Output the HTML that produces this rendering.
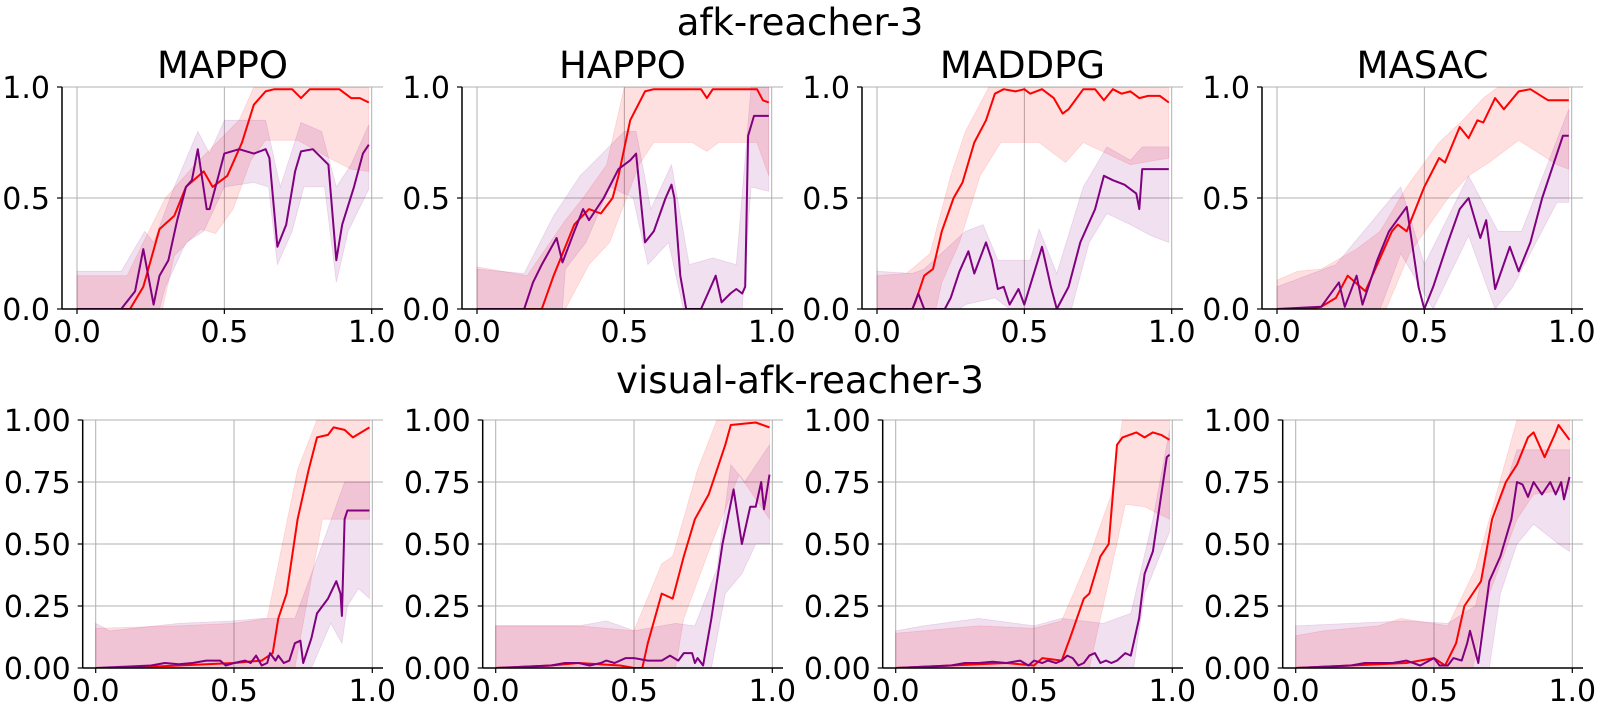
<!DOCTYPE html>
<html><head><meta charset="utf-8"><style>
html,body{margin:0;padding:0;background:#fff;}
svg{display:block;font-family:"DejaVu Sans","Liberation Sans",sans-serif;}
</style></head><body>
<svg id="fig" width="1600" height="711" viewBox="0 0 1600 711" xmlns="http://www.w3.org/2000/svg">
<text x="800" y="35" font-size="37" text-anchor="middle">afk-reacher-3</text>
<text x="800" y="393" font-size="37" text-anchor="middle">visual-afk-reacher-3</text>
</svg>
<script>
const titles = ["MAPPO","HAPPO","MADDPG","MASAC"];
const topTicks = [0,0.5,1];
const topTickLabels = ["0.0","0.5","1.0"];
const botTicks = [0,0.25,0.5,0.75,1];
const botTickLabels = ["0.00","0.25","0.50","0.75","1.00"];
const xTicks = [0,0.5,1];
const xTickLabels = ["0.0","0.5","1.0"];

// ---- Top row (afk-reacher-3) ----
const t1RedMean = [[0,0],[0.18,0],[0.225,0.1],[0.28,0.36],[0.33,0.42],[0.37,0.55],[0.43,0.62],[0.46,0.55],[0.51,0.6],[0.56,0.75],[0.6,0.92],[0.64,0.98],[0.67,0.99],[0.73,0.99],[0.76,0.95],[0.79,0.99],[0.89,0.99],[0.93,0.95],[0.96,0.95],[0.99,0.93]];
const t1RedLo = [[0,0],[0.29,0],[0.33,0.24],[0.42,0.36],[0.47,0.34],[0.53,0.45],[0.59,0.67],[0.64,0.76],[0.75,0.76],[0.87,0.67],[0.93,0.63],[0.99,0.62]];
const t1RedHi = [[0,0.15],[0.17,0.15],[0.225,0.3],[0.3,0.5],[0.4,0.65],[0.55,0.85],[0.6,1],[0.99,1]];
const t1PurMean = [[0,0],[0.15,0],[0.197,0.08],[0.225,0.27],[0.26,0.02],[0.28,0.15],[0.31,0.22],[0.34,0.4],[0.37,0.55],[0.39,0.58],[0.41,0.72],[0.44,0.45],[0.45,0.45],[0.48,0.6],[0.5,0.7],[0.55,0.72],[0.6,0.7],[0.64,0.72],[0.653,0.68],[0.68,0.28],[0.71,0.38],[0.74,0.62],[0.76,0.71],[0.8,0.72],[0.853,0.65],[0.88,0.22],[0.9,0.38],[0.94,0.55],[0.97,0.7],[0.99,0.74]];
const t1PurLo = [[0,0],[0.28,0],[0.3,0.1],[0.37,0.3],[0.43,0.35],[0.5,0.55],[0.6,0.57],[0.65,0.55],[0.68,0.2],[0.73,0.35],[0.77,0.55],[0.84,0.55],[0.88,0.12],[0.92,0.35],[0.99,0.54]];
const t1PurHi = [[0,0.17],[0.15,0.17],[0.23,0.35],[0.26,0.3],[0.33,0.55],[0.41,0.8],[0.45,0.7],[0.5,0.85],[0.64,0.85],[0.69,0.55],[0.76,0.84],[0.83,0.8],[0.88,0.55],[0.93,0.65],[0.99,0.83]];

const t2RedMean = [[0,0],[0.22,0],[0.26,0.15],[0.33,0.38],[0.38,0.45],[0.42,0.43],[0.46,0.5],[0.48,0.6],[0.52,0.85],[0.57,0.98],[0.6,0.99],[0.76,0.99],[0.78,0.95],[0.8,0.99],[0.95,0.99],[0.97,0.94],[0.99,0.93]];
const t2RedLo = [[0,0],[0.3,0],[0.38,0.2],[0.45,0.3],[0.55,0.65],[0.6,0.75],[0.73,0.75],[0.78,0.71],[0.82,0.75],[0.95,0.75],[0.99,0.6]];
const t2RedHi = [[0,0.19],[0.17,0.15],[0.3,0.4],[0.36,0.5],[0.44,0.65],[0.5,1],[0.99,1]];
const t2PurMean = [[0,0],[0.16,0],[0.19,0.12],[0.22,0.2],[0.27,0.32],[0.29,0.21],[0.33,0.35],[0.36,0.45],[0.38,0.4],[0.43,0.5],[0.48,0.63],[0.52,0.67],[0.54,0.7],[0.57,0.3],[0.6,0.35],[0.64,0.5],[0.66,0.56],[0.67,0.5],[0.69,0.15],[0.71,0],[0.76,0],[0.8,0.12],[0.81,0.15],[0.83,0.03],[0.86,0.07],[0.88,0.09],[0.9,0.07],[0.91,0.1],[0.92,0.78],[0.94,0.87],[0.99,0.87]];
const t2PurLo = [[0,0],[0.29,0],[0.3,0.18],[0.37,0.3],[0.45,0.55],[0.53,0.5],[0.58,0.2],[0.65,0.3],[0.7,0],[0.9,0],[0.93,0.55],[0.99,0.53]];
const t2PurHi = [[0,0.18],[0.16,0.16],[0.26,0.42],[0.35,0.6],[0.5,0.8],[0.54,0.8],[0.59,0.45],[0.66,0.65],[0.72,0.2],[0.8,0.23],[0.88,0.2],[0.93,1],[0.99,1]];

const t3RedMean = [[0,0],[0.12,0],[0.13,0.03],[0.16,0.15],[0.19,0.18],[0.22,0.35],[0.26,0.5],[0.29,0.57],[0.33,0.75],[0.37,0.85],[0.4,0.97],[0.43,0.99],[0.47,0.98],[0.5,0.99],[0.52,0.97],[0.56,0.99],[0.6,0.95],[0.63,0.88],[0.65,0.9],[0.7,0.99],[0.74,0.99],[0.77,0.94],[0.8,0.99],[0.83,0.97],[0.86,0.98],[0.89,0.95],[0.92,0.96],[0.96,0.96],[0.99,0.93]];
const t3RedLo = [[0,0],[0.2,0],[0.22,0.12],[0.28,0.3],[0.35,0.6],[0.42,0.75],[0.55,0.75],[0.64,0.66],[0.7,0.75],[0.78,0.7],[0.86,0.65],[0.99,0.68]];
const t3RedHi = [[0,0.15],[0.1,0.16],[0.18,0.25],[0.25,0.6],[0.3,0.8],[0.38,1],[0.99,1]];
const t3PurMean = [[0,0],[0.12,0],[0.14,0.07],[0.16,0],[0.23,0],[0.25,0.05],[0.28,0.17],[0.31,0.26],[0.33,0.16],[0.37,0.3],[0.39,0.22],[0.41,0.09],[0.43,0.1],[0.45,0.02],[0.48,0.09],[0.5,0.02],[0.53,0.15],[0.56,0.28],[0.59,0.1],[0.61,0],[0.65,0.1],[0.69,0.3],[0.74,0.45],[0.77,0.6],[0.8,0.58],[0.84,0.56],[0.88,0.52],[0.89,0.45],[0.9,0.63],[0.99,0.63]];
const t3PurLo = [[0,0],[0.28,0],[0.3,0.02],[0.4,0.05],[0.45,0],[0.66,0],[0.72,0.3],[0.78,0.43],[0.86,0.38],[0.93,0.33],[0.99,0.3]];
const t3PurHi = [[0,0.17],[0.12,0.16],[0.16,0.18],[0.3,0.35],[0.36,0.38],[0.41,0.22],[0.52,0.22],[0.55,0.36],[0.61,0.16],[0.7,0.55],[0.78,0.73],[0.86,0.67],[0.9,0.73],[0.99,0.73]];

const t4RedMean = [[0,0],[0.1,0],[0.15,0.01],[0.2,0.05],[0.24,0.15],[0.3,0.08],[0.34,0.2],[0.39,0.35],[0.41,0.38],[0.44,0.35],[0.5,0.55],[0.55,0.68],[0.57,0.66],[0.62,0.82],[0.65,0.77],[0.68,0.85],[0.7,0.84],[0.74,0.95],[0.77,0.9],[0.82,0.98],[0.86,0.99],[0.92,0.94],[0.95,0.94],[0.99,0.94]];
const t4RedLo = [[0,0],[0.37,0],[0.45,0.25],[0.58,0.5],[0.65,0.6],[0.72,0.66],[0.82,0.76],[0.95,0.65],[0.99,0.63]];
const t4RedHi = [[0,0.13],[0.07,0.17],[0.15,0.18],[0.27,0.27],[0.35,0.35],[0.44,0.55],[0.55,0.75],[0.63,0.85],[0.7,0.95],[0.75,1],[0.99,1]];
const t4PurMean = [[0,0],[0.15,0.01],[0.21,0.12],[0.23,0.01],[0.27,0.15],[0.29,0.02],[0.34,0.22],[0.38,0.35],[0.44,0.46],[0.48,0.1],[0.5,0],[0.53,0.1],[0.58,0.3],[0.62,0.45],[0.65,0.5],[0.69,0.32],[0.71,0.4],[0.74,0.09],[0.79,0.28],[0.82,0.17],[0.86,0.3],[0.9,0.5],[0.95,0.7],[0.97,0.78],[0.99,0.78]];
const t4PurLo = [[0,0],[0.35,0],[0.42,0.25],[0.53,0],[0.65,0.33],[0.74,0],[0.8,0.1],[0.95,0.48],[0.99,0.48]];
const t4PurHi = [[0,0.1],[0.2,0.2],[0.42,0.55],[0.5,0.2],[0.65,0.6],[0.75,0.35],[0.83,0.35],[0.99,0.9]];

// ---- Bottom row (visual-afk-reacher-3) ----
const b1RedMean = [[0,0],[0.1,0],[0.3,0.01],[0.5,0.02],[0.6,0.03],[0.64,0.06],[0.66,0.2],[0.69,0.3],[0.73,0.6],[0.77,0.8],[0.8,0.93],[0.84,0.94],[0.86,0.97],[0.9,0.96],[0.93,0.93],[0.99,0.97]];
const b1RedLo = [[0,0],[0.72,0],[0.82,0.6],[0.99,0.6]];
const b1RedHi = [[0,0.16],[0.3,0.17],[0.5,0.18],[0.62,0.2],[0.73,0.8],[0.8,1],[0.99,1]];
const b1PurMean = [[0,0],[0.1,0.005],[0.2,0.01],[0.25,0.02],[0.3,0.015],[0.35,0.02],[0.4,0.03],[0.45,0.03],[0.47,0.01],[0.5,0.02],[0.54,0.03],[0.56,0.02],[0.58,0.05],[0.6,0.01],[0.62,0.02],[0.63,0.06],[0.65,0.03],[0.66,0.05],[0.68,0.02],[0.7,0.03],[0.72,0.1],[0.74,0.11],[0.75,0.02],[0.78,0.12],[0.8,0.22],[0.84,0.28],[0.87,0.35],[0.885,0.3],[0.89,0.21],[0.9,0.6],[0.91,0.635],[0.99,0.635]];
const b1PurLo = [[0,0],[0.78,0],[0.85,0.18],[0.89,0.1],[0.91,0.25],[0.95,0.32],[0.99,0.28]];
const b1PurHi = [[0,0.18],[0.05,0.15],[0.3,0.18],[0.5,0.19],[0.6,0.2],[0.72,0.2],[0.82,0.5],[0.9,0.75],[0.99,0.75]];

const b2RedMean = [[0,0],[0.2,0.01],[0.3,0.02],[0.45,0.01],[0.5,0],[0.53,0],[0.55,0.1],[0.6,0.3],[0.64,0.28],[0.68,0.45],[0.72,0.6],[0.77,0.7],[0.83,0.9],[0.85,0.98],[0.94,0.99],[0.99,0.97]];
const b2RedLo = [[0,0],[0.65,0],[0.68,0.2],[0.78,0.5],[0.88,0.78],[0.99,0.6]];
const b2RedHi = [[0,0.17],[0.3,0.17],[0.5,0.15],[0.6,0.42],[0.64,0.45],[0.73,0.8],[0.8,1],[0.99,1]];
const b2PurMean = [[0,0],[0.1,0.005],[0.2,0.01],[0.25,0.02],[0.3,0.02],[0.34,0.01],[0.38,0.02],[0.4,0.03],[0.43,0.02],[0.47,0.04],[0.5,0.04],[0.55,0.03],[0.6,0.03],[0.63,0.05],[0.66,0.03],[0.68,0.06],[0.71,0.06],[0.72,0.02],[0.73,0.04],[0.75,0.01],[0.78,0.2],[0.82,0.5],[0.86,0.72],[0.89,0.5],[0.92,0.65],[0.94,0.65],[0.96,0.75],[0.97,0.64],[0.99,0.78]];
const b2PurLo = [[0,0],[0.78,0],[0.83,0.3],[0.89,0.38],[0.94,0.5],[0.99,0.5]];
const b2PurHi = [[0,0.17],[0.3,0.17],[0.4,0.19],[0.5,0.15],[0.65,0.18],[0.72,0.17],[0.8,0.4],[0.85,0.82],[0.9,0.75],[0.99,0.9]];

const b3RedMean = [[0,0],[0.2,0.01],[0.4,0.02],[0.5,0.01],[0.53,0.04],[0.6,0.03],[0.63,0.12],[0.68,0.28],[0.7,0.3],[0.74,0.45],[0.77,0.5],[0.8,0.9],[0.82,0.93],[0.87,0.95],[0.9,0.93],[0.93,0.95],[0.96,0.94],[0.99,0.92]];
const b3RedLo = [[0,0],[0.7,0],[0.78,0.4],[0.83,0.66],[0.9,0.65],[0.99,0.6]];
const b3RedHi = [[0,0.14],[0.1,0.15],[0.3,0.17],[0.5,0.16],[0.6,0.19],[0.7,0.45],[0.78,0.7],[0.82,1],[0.99,1]];
const b3PurMean = [[0,0],[0.1,0.005],[0.2,0.01],[0.25,0.02],[0.3,0.02],[0.35,0.025],[0.4,0.02],[0.45,0.03],[0.48,0.01],[0.5,0.03],[0.53,0.02],[0.55,0.03],[0.58,0.02],[0.6,0.03],[0.62,0.05],[0.64,0.04],[0.66,0.01],[0.68,0.02],[0.7,0.05],[0.72,0.06],[0.74,0.02],[0.76,0.03],[0.78,0.02],[0.8,0.03],[0.83,0.06],[0.85,0.05],[0.88,0.2],[0.9,0.38],[0.93,0.47],[0.98,0.85],[0.99,0.86]];
const b3PurLo = [[0,0],[0.86,0],[0.9,0.3],[0.99,0.55]];
const b3PurHi = [[0,0.15],[0.1,0.17],[0.3,0.2],[0.5,0.17],[0.6,0.2],[0.75,0.18],[0.85,0.22],[0.93,0.6],[0.99,0.96]];

const b4RedMean = [[0,0],[0.2,0.01],[0.4,0.02],[0.5,0.04],[0.54,0.01],[0.58,0.1],[0.61,0.25],[0.67,0.35],[0.71,0.6],[0.76,0.75],[0.8,0.82],[0.84,0.93],[0.86,0.95],[0.9,0.85],[0.94,0.95],[0.95,0.98],[0.99,0.92]];
const b4RedLo = [[0,0],[0.64,0],[0.7,0.3],[0.8,0.6],[0.86,0.7],[0.99,0.72]];
const b4RedHi = [[0,0.13],[0.1,0.15],[0.3,0.17],[0.38,0.2],[0.55,0.17],[0.65,0.4],[0.75,0.8],[0.8,1],[0.99,1]];
const b4PurMean = [[0,0],[0.1,0.005],[0.2,0.01],[0.25,0.02],[0.3,0.02],[0.35,0.02],[0.4,0.03],[0.45,0.01],[0.5,0.04],[0.52,0.01],[0.55,0.01],[0.57,0.04],[0.6,0.03],[0.62,0.1],[0.63,0.15],[0.66,0.02],[0.7,0.35],[0.74,0.45],[0.78,0.6],[0.8,0.75],[0.82,0.74],[0.84,0.69],[0.86,0.75],[0.89,0.7],[0.92,0.75],[0.94,0.7],[0.96,0.75],[0.97,0.68],[0.99,0.77]];
const b4PurLo = [[0,0],[0.7,0],[0.74,0.3],[0.8,0.5],[0.86,0.58],[0.95,0.5],[0.99,0.47]];
const b4PurHi = [[0,0.17],[0.2,0.18],[0.4,0.19],[0.55,0.18],[0.65,0.25],[0.72,0.6],[0.8,0.88],[0.99,0.88]];

const panels = [
  {row:0,col:0,rm:t1RedMean,rl:t1RedLo,rh:t1RedHi,pm:t1PurMean,pl:t1PurLo,ph:t1PurHi},
  {row:0,col:1,rm:t2RedMean,rl:t2RedLo,rh:t2RedHi,pm:t2PurMean,pl:t2PurLo,ph:t2PurHi},
  {row:0,col:2,rm:t3RedMean,rl:t3RedLo,rh:t3RedHi,pm:t3PurMean,pl:t3PurLo,ph:t3PurHi},
  {row:0,col:3,rm:t4RedMean,rl:t4RedLo,rh:t4RedHi,pm:t4PurMean,pl:t4PurLo,ph:t4PurHi},
  {row:1,col:0,rm:b1RedMean,rl:b1RedLo,rh:b1RedHi,pm:b1PurMean,pl:b1PurLo,ph:b1PurHi},
  {row:1,col:1,rm:b2RedMean,rl:b2RedLo,rh:b2RedHi,pm:b2PurMean,pl:b2PurLo,ph:b2PurHi},
  {row:1,col:2,rm:b3RedMean,rl:b3RedLo,rh:b3RedHi,pm:b3PurMean,pl:b3PurLo,ph:b3PurHi},
  {row:1,col:3,rm:b4RedMean,rl:b4RedLo,rh:b4RedHi,pm:b4PurMean,pl:b4PurLo,ph:b4PurHi}
];

const NS = "http://www.w3.org/2000/svg";
const svg = document.getElementById("fig");
function mk(tag, attrs, parent){
  const e = document.createElementNS(NS, tag);
  for (const k in attrs) e.setAttribute(k, attrs[k]);
  (parent||svg).appendChild(e);
  return e;
}
function interp(pts, x){
  if (x <= pts[0][0]) return pts[0][1];
  for (let i=1;i<pts.length;i++){
    if (x <= pts[i][0]){
      const a=pts[i-1], b=pts[i];
      return a[1] + (b[1]-a[1])*(x-a[0])/(b[0]-a[0]);
    }
  }
  return pts[pts.length-1][1];
}

panels.forEach((p, idx) => {
  const top = p.row===0;
  const off = 400*p.col;
  const x0 = (top?77:95.7)+off, x1 = (top?371.7:372.3)+off;
  const spineL = (top?62:82.7)+off, right = 383+off;
  const yT = top?87:420, yB = top?309:668;
  const sx = d => x0 + d*(x1-x0);
  const sy = v => yB - v*(yB-yT);
  const g = mk("g", {});
  
  
  const cid = "clip"+idx;
  const cp = mk("clipPath", {id:cid}, g);
  mk("rect", {x:spineL, y:yT, width:right-spineL, height:yB-yT}, cp);
  const yt = top?topTicks:botTicks, ytl = top?topTickLabels:botTickLabels;
  yt.forEach(v => {
    const l = mk("line", {x1:spineL, x2:right, y1:sy(v), y2:sy(v), stroke:"#b0b0b0", "stroke-width":1}, g);
    
    
  });
  xTicks.forEach(v => {
    const l = mk("line", {x1:sx(v), x2:sx(v), y1:yT, y2:yB, stroke:"#b0b0b0", "stroke-width":1}, g);
    
    
  });
  const data = mk("g", {"clip-path":"url(#"+cid+")"}, g);
  function band(lo, hi, fill, name){
    let up=[], dn=[];
    for (let x=0; x<=0.9901; x+=0.005){
      up.push(sx(x).toFixed(1)+","+sy(interp(hi,x)).toFixed(1));
      dn.push(sx(x).toFixed(1)+","+sy(interp(lo,x)).toFixed(1));
    }
    const e = mk("polygon", {points: up.concat(dn.reverse()).join(" "), fill:fill, stroke:fill, "stroke-width":0.8}, data);
    
    
  }
  function line(pts, color, name){
    const e = mk("polyline", {points: pts.map(q=>sx(q[0]).toFixed(1)+","+sy(q[1]).toFixed(1)).join(" "), fill:"none", stroke:color, "stroke-width":2, "stroke-linejoin":"round"}, data);
    
    
  }
  band(p.rl, p.rh, "rgba(255,0,0,0.12)", "red-band");
  band(p.pl, p.ph, "rgba(128,0,128,0.12)", "purple-band");
  line(p.rm, "#ff0000", "red-line");
  line(p.pm, "#800080", "purple-line");
  const sL = mk("line", {x1:spineL, x2:spineL, y1:yT, y2:yB, stroke:"#000", "stroke-width":1.5}, g);
  
  
  const sB = mk("line", {x1:spineL, x2:right, y1:yB, y2:yB, stroke:"#000", "stroke-width":1.5}, g);
  
  
  yt.forEach((v,i) => {
    mk("line", {x1:spineL-5, x2:spineL, y1:sy(v), y2:sy(v), stroke:"#000", "stroke-width":1.2}, g);
    const t = mk("text", {x:spineL-12, y:sy(v)+11, "font-size":30, "text-anchor":"end"}, g);
    t.textContent = ytl[i];
    
    
  });
  xTicks.forEach((v,i) => {
    mk("line", {x1:sx(v), x2:sx(v), y1:yB, y2:yB+5, stroke:"#000", "stroke-width":1.2}, g);
    const t = mk("text", {x:sx(v), y:yB+33, "font-size":30, "text-anchor":"middle"}, g);
    t.textContent = xTickLabels[i];
    
    
  });
  if (top){
    const t = mk("text", {x:(spineL+right)/2, y:78, "font-size":37, "text-anchor":"middle"}, g);
    t.textContent = titles[p.col];
    
    
  }
});
</script>
</body></html>
